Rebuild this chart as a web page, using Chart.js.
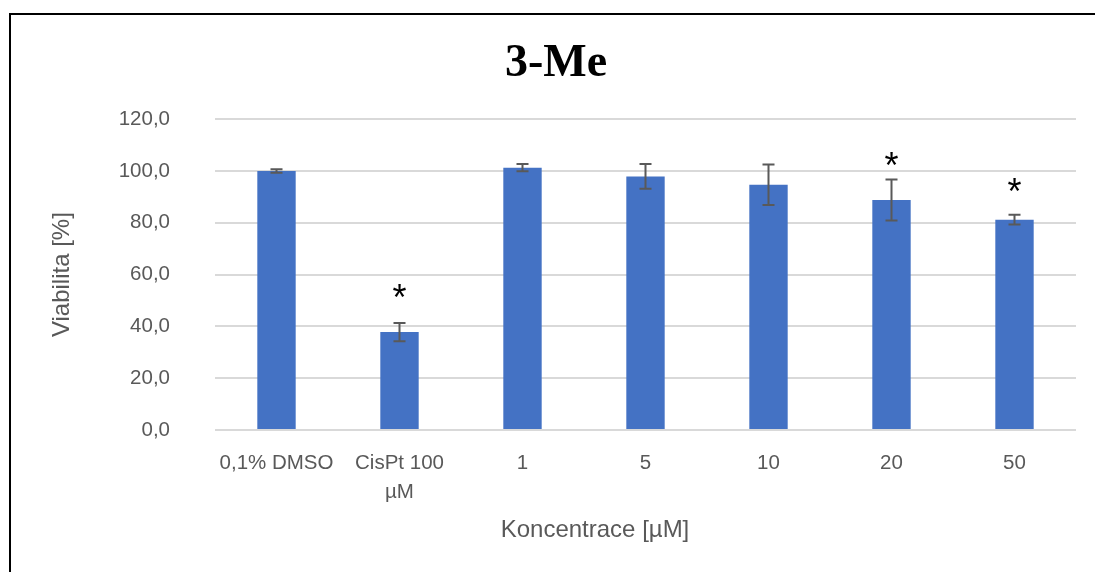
<!DOCTYPE html>
<html>
<head>
<meta charset="utf-8">
<script src="https://cdn.jsdelivr.net/npm/chart.js@4.4.0/dist/chart.umd.min.js"></script>
<style>
  html, body { margin: 0; padding: 0; background: #fff; }
  #wrap { width: 1095px; height: 572px; position: relative; }
</style>
</head>
<body>
<div id="wrap"><canvas id="viabilityChart"></canvas></div>
<script>
// Data
const categories = ['0,1% DMSO', ['CisPt 100', 'µM'], '1', '5', '10', '20', '50'];
const viability = [100.0, 37.8, 101.3, 97.9, 94.7, 88.8, 81.2];
const viabilityErr = [0.7, 3.5, 1.4, 4.8, 7.8, 7.9, 1.9];
// height (in % units) where the significance asterisk sits, null = none
const starLevels = [null, 54, null, null, null, 105, 95];
const yTicks = [0, 20, 40, 60, 80, 100, 120];
const xAxisTitle = 'Koncentrace [µM]';

const tickColor = '#595959';
const baseFont = '"Liberation Sans", Arial, sans-serif';

// error bars, asterisks, x axis title (centred on the whole chart) and outer frame
const extrasPlugin = {
    id: 'extras',
    afterDatasetsDraw(chart) {
        const ctx = chart.ctx;
        const x = chart.scales.x;
        const y = chart.scales.y;
        ctx.save();
        ctx.strokeStyle = '#595959';
        ctx.lineWidth = 2;
        viability.forEach((v, i) => {
            const px = x.getPixelForValue(i);
            const top = y.getPixelForValue(v + viabilityErr[i]);
            const bot = y.getPixelForValue(v - viabilityErr[i]);
            ctx.beginPath();
            ctx.moveTo(px, top);
            ctx.lineTo(px, bot);
            ctx.moveTo(px - 6, top);
            ctx.lineTo(px + 6, top);
            ctx.moveTo(px - 6, bot);
            ctx.lineTo(px + 6, bot);
            ctx.stroke();
        });
        ctx.fillStyle = '#000';
        ctx.font = '36px ' + baseFont;
        ctx.textAlign = 'center';
        ctx.textBaseline = 'middle';
        starLevels.forEach((s, i) => {
            if (s === null) return;
            ctx.fillText('*', x.getPixelForValue(i), y.getPixelForValue(s) + 10);
        });
        ctx.restore();
    },
    afterDraw(chart) {
        const ctx = chart.ctx;
        ctx.save();
        ctx.fillStyle = tickColor;
        ctx.font = '24px ' + baseFont;
        ctx.textAlign = 'center';
        ctx.textBaseline = 'middle';
        ctx.fillText(xAxisTitle, 595, 530);
        ctx.strokeStyle = '#000';
        ctx.lineWidth = 2;
        ctx.strokeRect(10, 14, 1200, 700);
        ctx.restore();
    }
};

new Chart(document.getElementById('viabilityChart').getContext('2d'), {
    type: 'bar',
    data: {
        labels: categories,
        datasets: [{
            label: 'Viabilita',
            data: viability,
            backgroundColor: '#4472C4',
            borderWidth: 0,
            categoryPercentage: 1,
            barPercentage: 0.312,
        }],
    },
    options: {
        responsive: true,
        maintainAspectRatio: false,
        animation: false,
        layout: { padding: { left: 36, right: 19, top: 0, bottom: 30 } },
        plugins: {
            legend: { display: false },
            tooltip: { enabled: false },
            title: {
                display: true,
                text: '3-Me',
                color: '#000',
                font: { family: '"Liberation Serif", "Times New Roman", serif', size: 46, weight: 'bold' },
                padding: { top: 37, bottom: 27 },
            },
        },
        scales: {
            x: {
                afterFit(scale) {
                    scale.height = 112;
                },
                grid: { display: false, drawTicks: false },
                border: { display: false },
                ticks: {
                    color: tickColor,
                    font: { family: baseFont, size: 20.5, lineHeight: 1.45 },
                    padding: 18,
                    maxRotation: 0,
                    autoSkip: false,
                },
            },
            y: {
                min: 0,
                max: 120,
                afterBuildTicks(scale) {
                    scale.ticks = yTicks.map(v => ({ value: v }));
                },
                afterFit(scale) {
                    scale.width = 179;
                },
                grid: { color: '#D9D9D9', lineWidth: 2, drawTicks: false },
                border: { display: false },
                ticks: {
                    color: tickColor,
                    font: { family: baseFont, size: 20.5 },
                    padding: 45,
                    callback: v => v.toFixed(1).replace('.', ','),
                },
                title: {
                    display: true,
                    text: 'Viabilita [%]',
                    color: tickColor,
                    font: { family: baseFont, size: 24 },
                    padding: { top: 12, bottom: 0 },
                },
            },
        },
    },
    plugins: [extrasPlugin],
});
</script>
</body>
</html>
